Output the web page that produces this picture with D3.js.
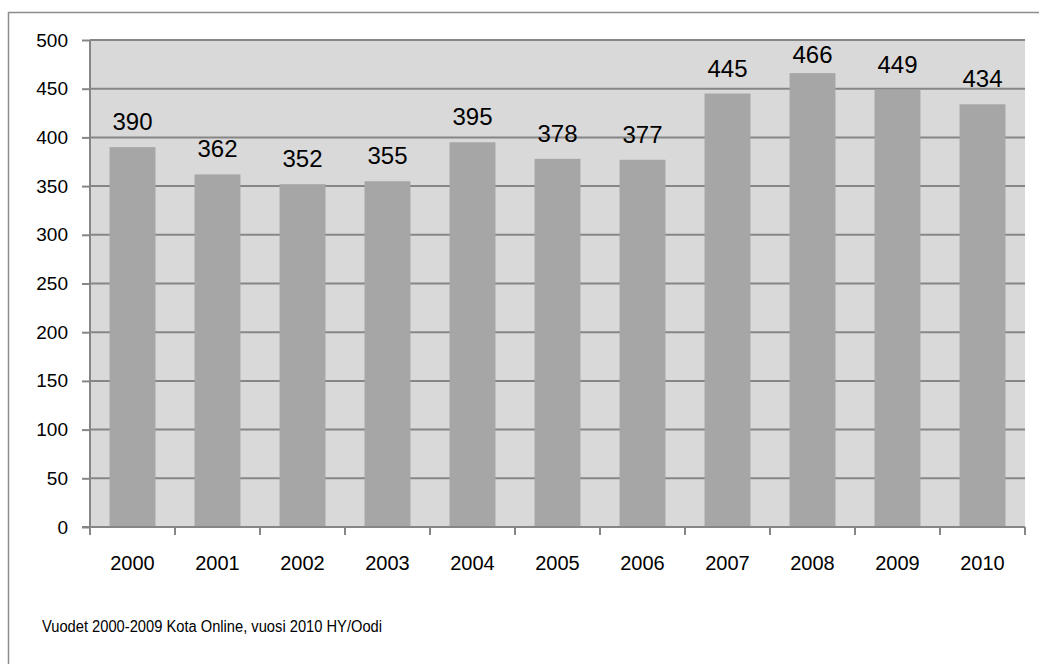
<!DOCTYPE html>
<html>
<head>
<meta charset="utf-8">
<script src="https://cdn.jsdelivr.net/npm/d3@7"></script>
<style>
  body { margin: 0; background: #fff; }
  svg text { font-family: "Liberation Sans", Arial, sans-serif; fill: #000; }
</style>
</head>
<body>
<div id="chart"></div>
<script>
const years = ["2000","2001","2002","2003","2004","2005","2006","2007","2008","2009","2010"];
const values = [390, 362, 352, 355, 395, 378, 377, 445, 466, 449, 434];
const yTicks = [0, 50, 100, 150, 200, 250, 300, 350, 400, 450, 500];
const note = "Vuodet 2000-2009 Kota Online, vuosi 2010 HY/Oodi";

const w = 1039, h = 664;
const padL = 90, padR = 1025, padT = 40, padB = 527;

const svg = d3.select("#chart").append("svg")
   .attr("width", w)
   .attr("height", h);

// outer frame
svg.append("rect")
   .attr("x", 8.5).attr("y", 12.5)
   .attr("width", 1040).attr("height", 700)
   .attr("fill", "#fff")
   .attr("stroke", "#8c8c8c")
   .attr("stroke-width", 1.5);

const xScale = d3.scaleBand()
   .domain(years)
   .range([padL, padR])
   .paddingInner(0.46)
   .paddingOuter(0.23);

const yScale = d3.scaleLinear()
   .domain([0, 500])
   .range([padB, padT]);

// plot background
svg.append("rect")
   .attr("x", padL).attr("y", padT)
   .attr("width", padR - padL).attr("height", padB - padT)
   .attr("fill", "#d9d9d9");

// gridlines
svg.append("g")
   .selectAll("line")
   .data(yTicks.filter(d => d > 0))
   .enter().append("line")
   .attr("x1", padL).attr("x2", padR)
   .attr("y1", d => yScale(d)).attr("y2", d => yScale(d))
   .attr("stroke", "#868686")
   .attr("stroke-width", 2);

// bars
svg.selectAll(".bar")
   .data(values)
   .enter().append("rect")
   .attr("class", "bar")
   .attr("x", (d, i) => xScale(years[i]))
   .attr("y", d => yScale(d))
   .attr("width", xScale.bandwidth())
   .attr("height", d => yScale(0) - yScale(d))
   .attr("fill", "#a6a6a6");

// value labels (kept inside the plot area, like Excel does)
svg.selectAll(".lbl")
   .data(values)
   .enter().append("text")
   .attr("class", "lbl")
   .attr("x", (d, i) => xScale(years[i]) + xScale.bandwidth() / 2)
   .attr("y", d => Math.max(yScale(d) - 17, padT + 23))
   .attr("text-anchor", "middle")
   .style("font-size", "24px")
   .text(d => d);

// y axis
const yAxis = d3.axisLeft(yScale).tickValues(yTicks).tickSize(8).tickPadding(14);
const gy = svg.append("g")
   .attr("transform", "translate(" + padL + ",0)")
   .call(yAxis);
gy.selectAll("line, path").attr("stroke", "#868686").attr("stroke-width", 2);
gy.select("path").attr("d", "M0," + padT + "V" + padB);
gy.selectAll("text").style("font-size", "19px");

// x axis: ticks at category boundaries
const bounds = d3.range(years.length + 1).map(i => padL + i * (padR - padL) / years.length);
const gx = svg.append("g");
gx.append("line")
   .attr("x1", padL - 8).attr("x2", padR)
   .attr("y1", padB).attr("y2", padB)
   .attr("stroke", "#868686").attr("stroke-width", 2);
gx.selectAll(".xt")
   .data(bounds)
   .enter().append("line")
   .attr("x1", d => d).attr("x2", d => d)
   .attr("y1", padB).attr("y2", padB + 8)
   .attr("stroke", "#868686").attr("stroke-width", 2);
gx.selectAll(".xl")
   .data(years)
   .enter().append("text")
   .attr("x", d => xScale(d) + xScale.bandwidth() / 2)
   .attr("y", padB + 43)
   .attr("text-anchor", "middle")
   .style("font-size", "20px")
   .text(d => d);

// source note
svg.append("text")
   .attr("x", 42).attr("y", 632)
   .attr("textLength", 340)
   .attr("lengthAdjust", "spacingAndGlyphs")
   .style("font-size", "16px")
   .text(note);
</script>
</body>
</html>
